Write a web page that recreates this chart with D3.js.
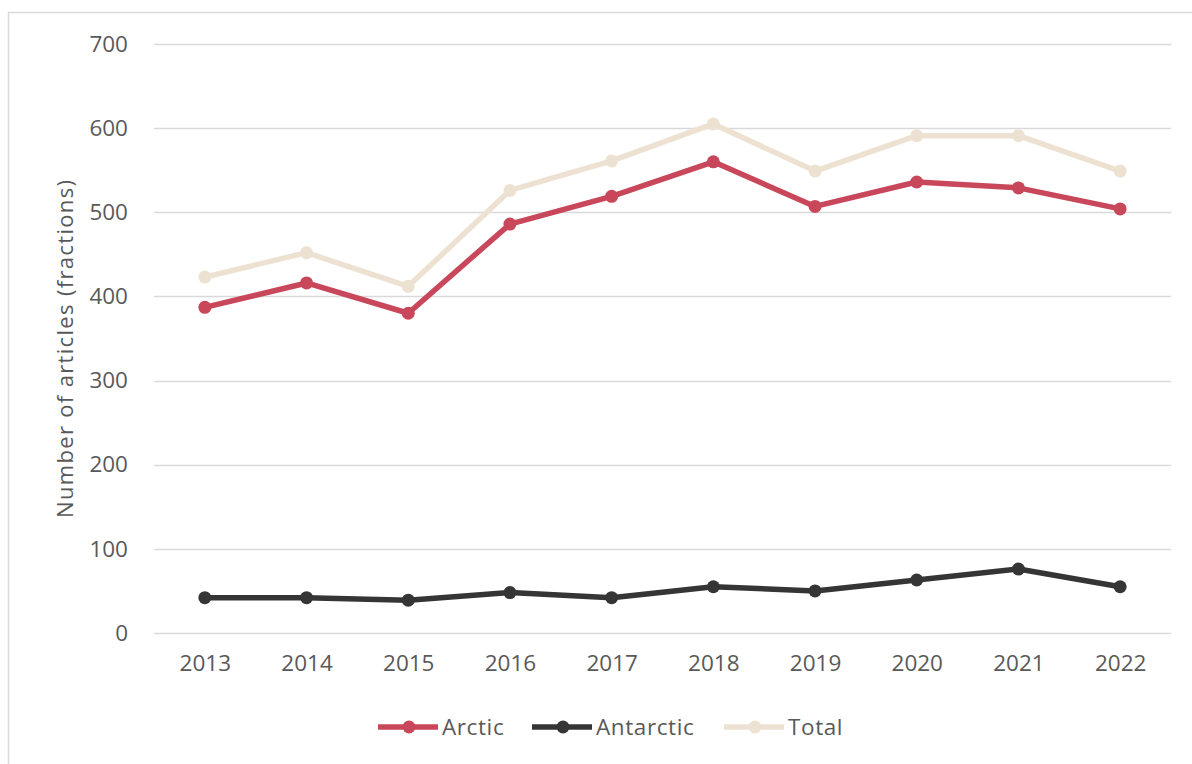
<!DOCTYPE html>
<html>
<head>
<meta charset="utf-8">
<script src="https://cdn.jsdelivr.net/npm/d3@7"></script>
<style>
  body { margin: 0; background: #fff; }
  svg { display: block; font-family: "Open Sans", sans-serif; }
</style>
</head>
<body>
<div id="chart"></div>
<script>
(function(){
const years = [2013, 2014, 2015, 2016, 2017, 2018, 2019, 2020, 2021, 2022];
const arctic = [387, 416, 380, 486, 519, 560, 507, 536, 529, 504];
const antarctic = [42, 42, 39, 48, 42, 55, 50, 63, 76, 55];
const total = [423, 452, 412, 526, 561, 605, 549, 591, 591, 549];
const yTicks = [0, 100, 200, 300, 400, 500, 600, 700];

const series = [
    { name: "Arctic", values: arctic, color: "#c8475a" },
    { name: "Antarctic", values: antarctic, color: "#353535" },
    { name: "Total", values: total, color: "#ede2d2" }
];

const W = 1192, H = 764;
const svg = d3.select("#chart").append("svg")
    .attr("width", W)
    .attr("height", H);

// outer frame (only top and left visible)
svg.append("path")
    .attr("d", `M8.5,${H} V12.5 H${W}`)
    .attr("fill", "none")
    .attr("stroke", "#d9d9d9")
    .attr("stroke-width", 1.5);

const plot = { left: 154, right: 1171, top: 44, bottom: 633 };

const x = d3.scalePoint()
    .domain(years)
    .range([plot.left, plot.right])
    .padding(0.5);

const y = d3.scaleLinear()
    .domain([0, 700])
    .range([plot.bottom, plot.top]);

// gridlines
svg.append("g")
    .selectAll("line")
    .data(yTicks)
    .join("line")
    .attr("x1", plot.left)
    .attr("x2", plot.right)
    .attr("y1", d => Math.round(y(d)) + 0.5)
    .attr("y2", d => Math.round(y(d)) + 0.5)
    .attr("stroke", "#d9d9d9")
    .attr("stroke-width", 1.5);

// y axis labels
const yAxis = svg.append("g")
    .attr("transform", `translate(${plot.left - 10},0)`)
    .call(d3.axisLeft(y).tickValues(yTicks).tickSize(0).tickPadding(16));
yAxis.select(".domain").remove();
yAxis.selectAll("text")
    .attr("fill", "#595959")
    .style("font-size", "22.5px")
    .style("font-family", "'Open Sans', sans-serif");

// x axis labels
const xAxis = svg.append("g")
    .attr("transform", `translate(0,${plot.bottom})`)
    .call(d3.axisBottom(x).tickSize(0).tickPadding(22));
xAxis.select(".domain").remove();
xAxis.selectAll("text")
    .attr("fill", "#595959")
    .style("font-size", "22.5px")
    .style("font-family", "'Open Sans', sans-serif");

// y axis title
svg.append("text")
    .attr("transform", `translate(73,${(180 + 518) / 2}) rotate(-90)`)
    .attr("text-anchor", "middle")
    .attr("fill", "#595959")
    .attr("textLength", 338)
    .style("font-size", "22px")
    .text("Number of articles (fractions)");

// lines
const line = d3.line()
    .x((d, i) => x(years[i]))
    .y(d => y(d));

// draw Total first (behind), then Arctic, then Antarctic
const order = [series[2], series[0], series[1]];
order.forEach(s => {
    const g = svg.append("g");
    g.append("path")
        .datum(s.values)
        .attr("d", line)
        .attr("fill", "none")
        .attr("stroke", s.color)
        .attr("stroke-width", 5.5)
        .attr("stroke-linejoin", "round");
    g.selectAll("circle")
        .data(s.values)
        .join("circle")
        .attr("cx", (d, i) => x(years[i]))
        .attr("cy", d => y(d))
        .attr("r", 6.5)
        .attr("fill", s.color);
});

// legend
const legendX = [378, 532, 724];
series.forEach((s, i) => {
    const lg = svg.append("g")
        .attr("transform", `translate(${legendX[i]},727)`);
    lg.append("line")
        .attr("x1", 0).attr("x2", 60)
        .attr("y1", 0).attr("y2", 0)
        .attr("stroke", s.color)
        .attr("stroke-width", 5.5);
    lg.append("circle")
        .attr("cx", 31).attr("cy", 0)
        .attr("r", 6.5)
        .attr("fill", s.color);
    lg.append("text")
        .attr("x", 64)
        .attr("y", 0)
        .attr("dy", "0.35em")
        .attr("fill", "#595959")
        .style("font-size", "22.5px")
        .style("letter-spacing", "0.6px")
        .text(s.name);
});
})();
</script>
</body>
</html>
